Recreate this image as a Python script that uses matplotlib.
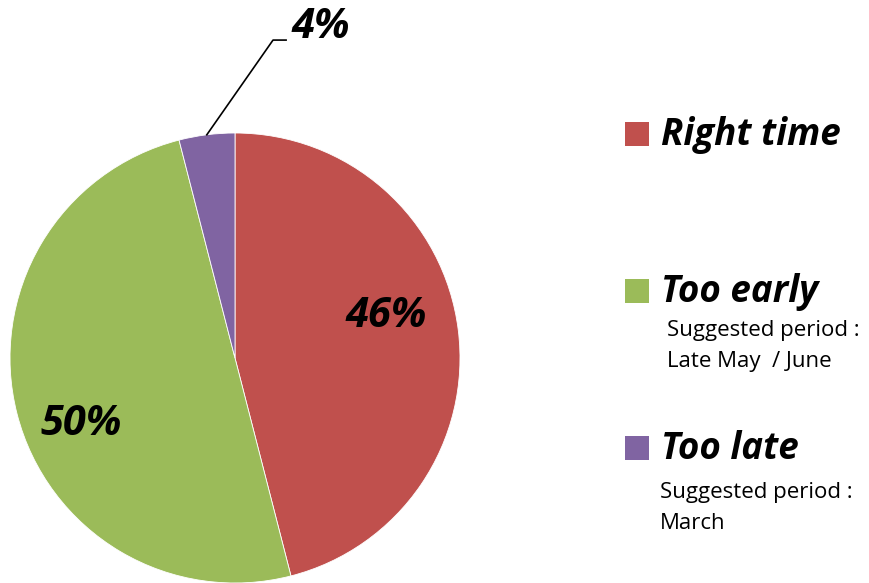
import matplotlib
matplotlib.use("Agg")
import matplotlib.pyplot as plt
from matplotlib.patches import Rectangle
import numpy as np

categories = ["Right time", "Too early", "Too late"]
values = [46, 50, 4]
colors = ["#C0504D", "#9BBB59", "#8064A2"]
sub_texts = ["", "Suggested period :\nLate May  / June", "Suggested period :\nMarch"]

plt.rcParams['font.family'] = ['Open Sans', 'DejaVu Sans']

W, H = 870, 583
fig = plt.figure(figsize=(W / 100, H / 100), dpi=100)
ax = fig.add_axes([10 / W, 0, 450 / W, 450 / H])
wedges, _ = ax.pie(values, colors=colors, startangle=90, counterclock=False,
                   radius=1.0, wedgeprops=dict(linewidth=0.6, edgecolor="white"))
ax.set_xlim(-1, 1)
ax.set_ylim(-1, 1)
ax.set_aspect("equal")
ax.axis("off")

lab_kw = dict(fontsize=30, fontweight="bold", fontstyle="italic", color="black")
# 46% label
ax.text(0.673, 0.138, f"{values[0]}%", ha="center", va="baseline", **lab_kw)
# 50% label
ax.text(-0.682, -0.342, f"{values[1]}%", ha="center", va="baseline", **lab_kw)
# 4% label with leader line
w = wedges[2]
mid = np.deg2rad((w.theta1 + w.theta2) / 2)
px, py = np.cos(mid), np.sin(mid)
ax.plot([px, 0.169, 0.227], [py, 1.413, 1.413], color="black", lw=1.2, clip_on=False)
ax.text(0.25, 1.422, f"{values[2]}%", ha="left", va="baseline", clip_on=False, **lab_kw)

# Legend (pixel coordinates from top-left)
def fx(x):
    return x / W

def fy(y):
    return 1 - y / H

base_y = [145, 302, 459]
sub_x = [667, 667, 660]
sub_base = [None, (336, 367), (498, 529)]
for cat, col, sub, by, sx, sb in zip(categories, colors, sub_texts, base_y, sub_x, sub_base):
    fig.patches.append(Rectangle((fx(625), fy(by + 1)), 24 / W, 24 / H,
                                 transform=fig.transFigure, facecolor=col,
                                 edgecolor="none"))
    fig.text(fx(661), fy(by), cat, ha="left", va="baseline", fontsize=26.5,
             fontweight="bold", fontstyle="italic")
    if sub:
        lines = sub.split("\n")
        for ln, yb in zip(lines, sb):
            fig.text(fx(sx), fy(yb), ln, ha="left", va="baseline", fontsize=16)

fig.savefig("out.png", dpi=100)
